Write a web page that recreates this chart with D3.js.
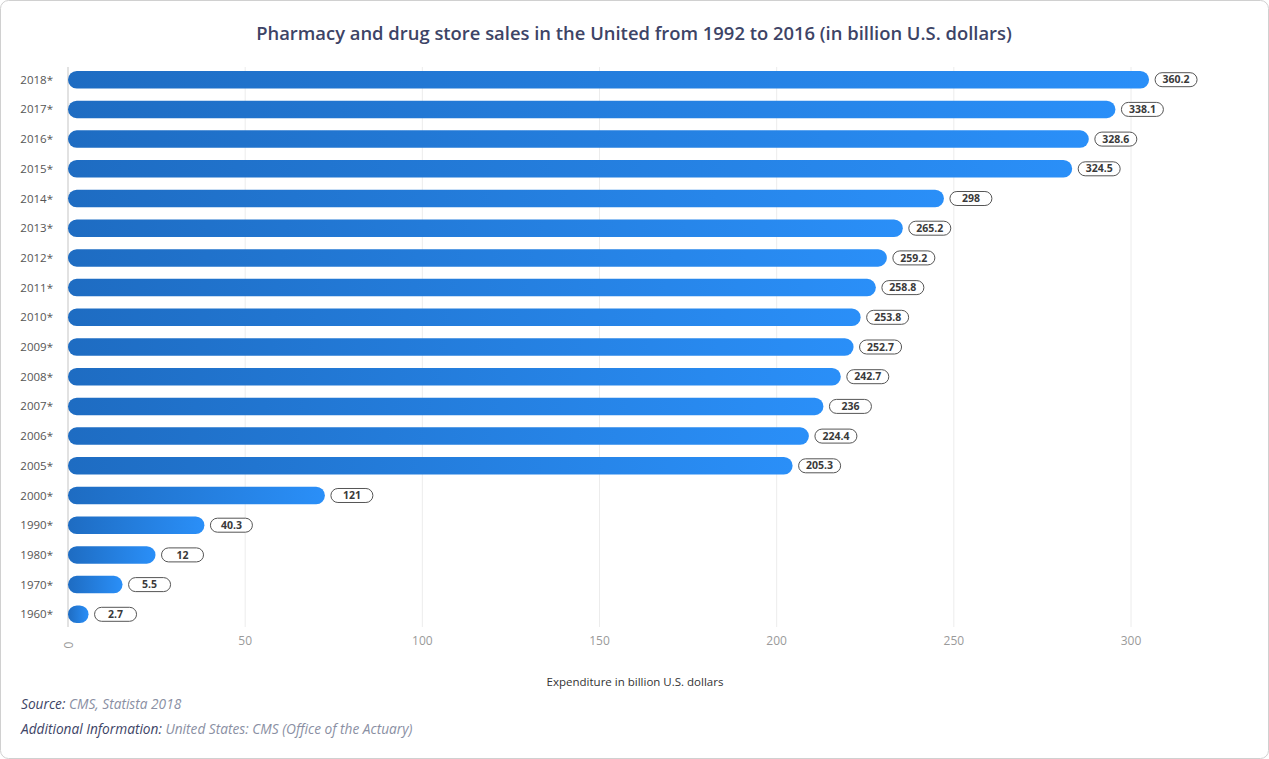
<!DOCTYPE html>
<html>
<head>
<meta charset="utf-8">
<script src="https://cdn.jsdelivr.net/npm/d3@7"></script>
<style>
  html, body { margin: 0; padding: 0; background: #fff; }
  svg { display: block; font-family: "Open Sans", "DejaVu Sans", sans-serif; }
</style>
</head>
<body>
<script>
// years shown on the y axis
const years = ["2018*", "2017*", "2016*", "2015*", "2014*", "2013*", "2012*", "2011*", "2010*",
  "2009*", "2008*", "2007*", "2006*", "2005*", "2000*", "1990*", "1980*", "1970*", "1960*"];

// values printed in the label boxes
const labels = [360.2, 338.1, 328.6, 324.5, 298, 265.2, 259.2, 258.8, 253.8,
  252.7, 242.7, 236, 224.4, 205.3, 121, 40.3, 12, 5.5, 2.7];

// bar extent as drawn, read against the x axis
const barLengths = [305.1, 295.6, 288.1, 283.4, 247.2, 235.6, 231.1, 228.0, 223.7,
  221.7, 218.1, 213.2, 209.1, 204.5, 72.5, 38.5, 24.7, 15.4, 5.8];

const xTicks = [0, 50, 100, 150, 200, 250, 300];

const width = 1269;
const height = 759;

const svg = d3.select("body").append("svg")
  .attr("width", width)
  .attr("height", height);

// card frame
svg.append("rect")
  .attr("x", 0.5).attr("y", 0.5)
  .attr("width", width - 1).attr("height", height - 1)
  .attr("rx", 8)
  .attr("fill", "#fff")
  .attr("stroke", "#d0d0d0");

const defs = svg.append("defs");
const grad = defs.append("linearGradient")
  .attr("id", "barfill")
  .attr("x1", "0%").attr("x2", "100%")
  .attr("y1", "0%").attr("y2", "0%");
grad.append("stop").attr("offset", "0%").attr("stop-color", "#1e6cc2");
grad.append("stop").attr("offset", "100%").attr("stop-color", "#2a8ff8");

const x = d3.scaleLinear().domain([0, 300]).range([68, 1131]);
const y = d3.scaleBand().domain(years).range([65, 629]).paddingInner(0.41).paddingOuter(0.2);

// title
svg.append("text")
  .attr("x", 634).attr("y", 40)
  .attr("text-anchor", "middle")
  .attr("font-size", 18.4)
  .attr("font-weight", 600)
  .attr("fill", "#3d4466")
  .text("Pharmacy and drug store sales in the United from 1992 to 2016 (in billion U.S. dollars)");

// grid
svg.append("g")
  .selectAll("line")
  .data(xTicks.slice(1))
  .join("line")
  .attr("x1", d => x(d)).attr("x2", d => x(d))
  .attr("y1", 67).attr("y2", 627)
  .attr("stroke", "#ececec");

svg.append("line")
  .attr("x1", x(0)).attr("x2", x(0))
  .attr("y1", 67).attr("y2", 627)
  .attr("stroke", "#d8d8d8")
  .attr("stroke-width", 1.5);

// x tick labels
svg.append("g")
  .selectAll("text")
  .data(xTicks)
  .join("text")
  .attr("transform", d => d === 0 ? `translate(${x(d) + 1},645) rotate(-90)` : `translate(${x(d)},645)`)
  .attr("text-anchor", "middle")
  .attr("dy", d => d === 0 ? "0.35em" : 0)
  .attr("font-size", 12)
  .attr("fill", "#9a9a9a")
  .text(d => d);

// y labels
svg.append("g")
  .selectAll("text")
  .data(years)
  .join("text")
  .attr("x", 53)
  .attr("y", d => y(d) + y.bandwidth() / 2)
  .attr("dy", "0.35em")
  .attr("text-anchor", "end")
  .attr("font-size", 11.5)
  .attr("fill", "#555")
  .text(d => d);

// bars
const rows = years.map((yr, i) => ({ year: yr, len: barLengths[i], label: labels[i] }));
const bh = y.bandwidth();

svg.append("g")
  .selectAll("rect")
  .data(rows)
  .join("rect")
  .attr("x", x(0))
  .attr("y", d => y(d.year))
  .attr("width", d => Math.max(x(d.len) - x(0), bh))
  .attr("height", bh)
  .attr("rx", bh / 2)
  .attr("fill", "url(#barfill)");

// value labels
const lab = svg.append("g")
  .selectAll("g")
  .data(rows)
  .join("g")
  .attr("transform", d => `translate(${Math.max(x(d.len), x(0) + bh) + 6},${y(d.year) + bh / 2})`);

lab.append("rect")
  .attr("x", 0).attr("y", -7)
  .attr("width", 42).attr("height", 14)
  .attr("rx", 7)
  .attr("fill", "#fff")
  .attr("stroke", "#555")
  .attr("stroke-width", 1);

lab.append("text")
  .attr("x", 21)
  .attr("dy", "0.35em")
  .attr("text-anchor", "middle")
  .attr("font-size", 10.5)
  .attr("font-weight", 700)
  .attr("fill", "#3a3a3a")
  .text(d => d.label);

// axis title
svg.append("text")
  .attr("x", 635).attr("y", 686)
  .attr("text-anchor", "middle")
  .attr("font-size", 11.5)
  .attr("fill", "#333")
  .text("Expenditure in billion U.S. dollars");

// footer
const notes = [
  { head: "Source:", body: "CMS, Statista 2018", y: 709 },
  { head: "Additional Information:", body: "United States: CMS (Office of the Actuary)", y: 734 }
];
notes.forEach(n => {
  const t = svg.append("text")
    .attr("x", 21).attr("y", n.y)
    .attr("font-size", 13.7)
    .attr("font-style", "italic");
  t.append("tspan").attr("fill", "#3d4466").text(n.head + " ");
  t.append("tspan").attr("fill", "#8a8fa3").text(n.body);
});
</script>
</body>
</html>
